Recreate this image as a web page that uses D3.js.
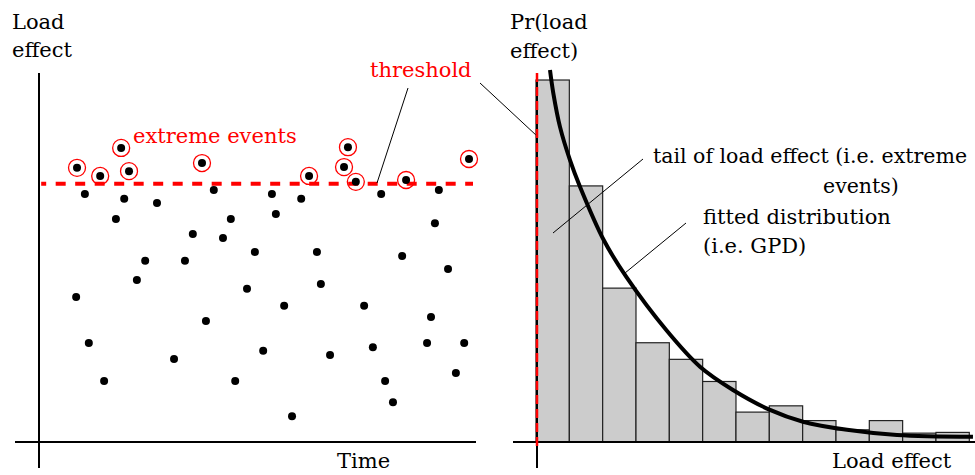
<!DOCTYPE html>
<html>
<head>
<meta charset="utf-8">
<script src="https://cdn.jsdelivr.net/npm/d3@7"></script>
<style>
  html, body { margin: 0; padding: 0; background: #fff; }
  svg { display: block; }
  text { font-family: "DejaVu Serif", serif; }
</style>
</head>
<body>
<svg id="chart" width="975" height="475"></svg>
<script>
// ---- Left panel: load effect over time (time 0-100, load effect 0-100) ----
const eventTimes  = [8.7, 14.0, 18.8, 20.6, 37.3, 61.8, 69.8, 70.7, 72.5, 84.0, 98.4];
const eventLoads  = [74.3, 72.1, 79.7, 73.4, 75.6, 72.1, 74.5, 79.9, 70.5, 71.0, 76.7];
const otherTimes  = [10.5, 19.5, 27.0, 40.0, 53.3, 60.0, 78.3, 91.5, 17.6, 43.9, 54.2, 90.6, 35.2, 42.1,
                     49.4, 63.6, 24.3, 33.4, 83.1, 22.4, 47.6, 64.5, 93.6, 8.5, 56.1, 74.4, 89.7, 38.2,
                     11.4, 88.8, 97.3, 76.4, 30.9, 51.3, 66.6, 14.9, 44.9, 79.2, 95.4, 81.0, 57.9];
const otherLoads  = [67.2, 65.9, 64.8, 68.3, 67.2, 65.9, 67.2, 68.3, 60.4, 60.4, 61.8, 59.3, 56.4, 55.3,
                     51.5, 51.5, 49.1, 49.1, 50.4, 43.9, 41.5, 42.8, 46.9, 39.3, 36.9, 36.9, 33.9, 32.8,
                     26.8, 26.8, 26.8, 25.7, 22.5, 24.7, 23.6, 16.5, 16.5, 16.5, 18.7, 10.8, 7.0];
const thresholdValue = 70;

// ---- Right panel: histogram of load effect (13 bins) and fitted GPD ----
const binStarts   = [0, 1, 2, 3, 4, 5, 6, 7, 8, 9, 10, 11, 12];
const binFreqs    = [98.1, 69.4, 41.7, 26.9, 22.4, 16.4, 8.1, 9.8, 5.8, 3.3, 5.8, 2.4, 2.6];
const curveX      = [0.42, 0.52, 0.72, 1.02, 1.32, 2.04, 2.72, 3.92, 4.92, 5.91, 7.02, 8.01, 9.33, 10.83, 13.11];
const curveY      = [100.8, 94.5, 85.4, 76.4, 69.2, 54.6, 44.6, 30.2, 20.4, 14.1, 8.7, 5.5, 3.3, 1.9, 1.4];

// ---- Labels ----
const leftYLabel  = ["Load", "effect"];
const leftXLabel  = "Time";
const rightYLabel = ["Pr(load", "effect)"];
const rightXLabel = "Load effect";
const thresholdLabel = "threshold";
const eventsLabel = "extreme events";
const tailLabel   = ["tail of load effect (i.e. extreme", "events)"];
const fitLabel    = ["fitted distribution", "(i.e. GPD)"];

const RED = "#ff0000";
const svg = d3.select("#chart");

// Scales
const xL = d3.scaleLinear().domain([0, 100]).range([39, 476]);
const yL = d3.scaleLinear().domain([0, 100]).range([442, 73]);
const xR = d3.scaleLinear().domain([0, 13]).range([536, 969.3]);
const yR = d3.scaleLinear().domain([0, 100]).range([442, 73]);

// ===== Left panel =====
const gL = svg.append("g");
gL.append("line").attr("x1", 39).attr("x2", 39).attr("y1", 73).attr("y2", 468)
  .attr("stroke", "#000").attr("stroke-width", 2);
gL.append("line").attr("x1", 15).attr("x2", 476).attr("y1", 442).attr("y2", 442)
  .attr("stroke", "#000").attr("stroke-width", 2);

// threshold line
gL.append("line")
  .attr("x1", xL(0.5)).attr("x2", 473)
  .attr("y1", yL(thresholdValue)).attr("y2", yL(thresholdValue))
  .attr("stroke", RED).attr("stroke-width", 4)
  .attr("stroke-dasharray", "10,9.5").attr("stroke-dashoffset", 5);

const others = otherTimes.map((t, i) => ({ t, v: otherLoads[i] }));
const events = eventTimes.map((t, i) => ({ t, v: eventLoads[i] }));

gL.selectAll("circle.dot").data(others.concat(events)).join("circle")
  .attr("class", "dot")
  .attr("cx", d => xL(d.t)).attr("cy", d => yL(d.v)).attr("r", 4)
  .attr("fill", "#000");

gL.selectAll("circle.ring").data(events).join("circle")
  .attr("class", "ring")
  .attr("cx", d => xL(d.t)).attr("cy", d => yL(d.v)).attr("r", 8.5)
  .attr("fill", "none").attr("stroke", RED).attr("stroke-width", 1.3);

// labels left
gL.selectAll("text.ylab").data(leftYLabel).join("text")
  .attr("class", "ylab")
  .attr("x", 12).attr("y", (d, i) => 29 + i * 28)
  .attr("font-size", 21).attr("fill", "#000").text(d => d);
gL.append("text").attr("x", 337).attr("y", 468).attr("font-size", 21).text(leftXLabel);

svg.append("text").attr("x", 133).attr("y", 143).attr("font-size", 21)
  .attr("fill", RED).text(eventsLabel);
svg.append("text").attr("x", 370).attr("y", 77).attr("font-size", 21)
  .attr("fill", RED).text(thresholdLabel);

// threshold pointer lines
svg.append("line").attr("x1", 408).attr("y1", 88).attr("x2", 377).attr("y2", 183)
  .attr("stroke", "#000").attr("stroke-width", 1);
svg.append("line").attr("x1", 480).attr("y1", 83).attr("x2", 537).attr("y2", 136)
  .attr("stroke", "#000").attr("stroke-width", 1);

// ===== Right panel =====
const gR = svg.append("g");
gR.selectAll("rect.bar").data(binStarts.map((s, i) => ({ s, f: binFreqs[i] }))).join("rect")
  .attr("class", "bar")
  .attr("x", d => xR(d.s)).attr("width", d => xR(d.s + 1) - xR(d.s))
  .attr("y", d => yR(d.f)).attr("height", d => yR(0) - yR(d.f))
  .attr("fill", "#cccccc").attr("stroke", "#222").attr("stroke-width", 1.2);

gR.append("line").attr("x1", 513).attr("x2", 975).attr("y1", 442).attr("y2", 442)
  .attr("stroke", "#000").attr("stroke-width", 2);
gR.append("line").attr("x1", 537).attr("x2", 537).attr("y1", 73).attr("y2", 468)
  .attr("stroke", "#000").attr("stroke-width", 2);
gR.append("line").attr("x1", 537).attr("x2", 537).attr("y1", 73).attr("y2", 446)
  .attr("stroke", RED).attr("stroke-width", 2.5).attr("stroke-dasharray", "9,5");

const line = d3.line().x(d => xR(d[0])).y(d => yR(d[1])).curve(d3.curveCatmullRom.alpha(0.5));
gR.append("path").datum(curveX.map((x, i) => [x, curveY[i]]))
  .attr("d", line).attr("fill", "none").attr("stroke", "#000").attr("stroke-width", 4);

// labels right
gR.selectAll("text.ylab").data(rightYLabel).join("text")
  .attr("class", "ylab")
  .attr("x", 510).attr("y", (d, i) => 29 + i * 29)
  .attr("font-size", 21).text(d => d);
gR.append("text").attr("x", 832).attr("y", 468).attr("font-size", 21).text(rightXLabel);

svg.append("text").attr("x", 653).attr("y", 163).attr("font-size", 20.5).text(tailLabel[0]);
svg.append("text").attr("x", 823).attr("y", 193).attr("font-size", 20.5).text(tailLabel[1]);
svg.append("text").attr("x", 703).attr("y", 224).attr("font-size", 21).text(fitLabel[0]);
svg.append("text").attr("x", 703).attr("y", 253).attr("font-size", 21).text(fitLabel[1]);

svg.append("line").attr("x1", 643).attr("y1", 159).attr("x2", 553).attr("y2", 233)
  .attr("stroke", "#000").attr("stroke-width", 1);
svg.append("line").attr("x1", 686).attr("y1", 223).attr("x2", 625).attr("y2", 273)
  .attr("stroke", "#000").attr("stroke-width", 1);
</script>
</body>
</html>
